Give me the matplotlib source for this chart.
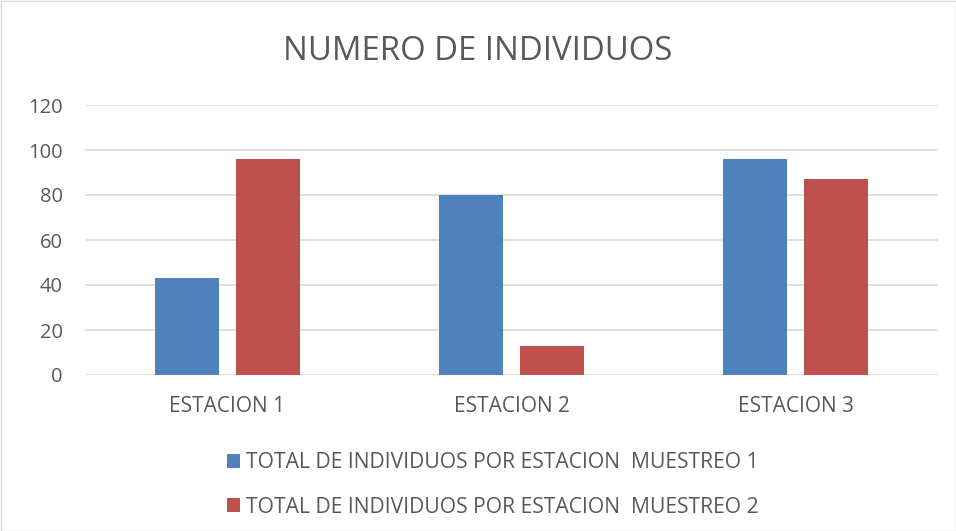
import matplotlib
matplotlib.use("Agg")
import matplotlib.pyplot as plt
import numpy as np
from matplotlib.patches import Rectangle

categories = ["ESTACION 1", "ESTACION 2", "ESTACION 3"]
series_names = ["TOTAL DE INDIVIDUOS POR ESTACION  MUESTREO 1",
                "TOTAL DE INDIVIDUOS POR ESTACION  MUESTREO 2"]
muestreo1 = [43, 80, 96]
muestreo2 = [96, 13, 87]
yticks = [0, 20, 40, 60, 80, 100, 120]

colors = ["#4F81BD", "#C0504D"]
text_color = "#595959"
plt.rcParams['font.family'] = ['Open Sans', 'DejaVu Sans']

W, H = 956, 531
fig = plt.figure(figsize=(W/100, H/100), dpi=100)
ax = fig.add_axes([85/W, (H-375)/H, (938-85)/W, (375-105)/H])

x = np.arange(len(categories))
bw = 0.225
off = 0.1425
ax.bar(x - off, muestreo1, bw, color=colors[0], label=series_names[0], zorder=3)
ax.bar(x + off, muestreo2, bw, color=colors[1], label=series_names[1], zorder=3)

ax.set_xlim(-0.5, len(categories) - 0.5)
ax.set_ylim(0, 120)
ax.set_yticks(yticks)
ax.set_xticks(x)
ax.set_xticklabels(categories)
ax.yaxis.grid(True, color="#d9d9d9", linewidth=1.2, zorder=0)
ax.tick_params(axis='both', length=0, labelsize=14.5, colors=text_color)
ax.tick_params(axis='x', pad=15, labelsize=15)
ax.tick_params(axis='y', pad=16)
for s in ax.spines.values():
    s.set_visible(False)

fig.text(0.5, 1 - 52/H, "NUMERO DE INDIVIDUOS", ha='center', va='center',
         fontsize=23.7, color=text_color)

handles, labels = ax.get_legend_handles_labels()
leg = fig.legend(handles, labels, loc='center', bbox_to_anchor=(493/W, 1 - 485/H),
                 ncol=1, frameon=False, fontsize=15.2, labelcolor=text_color,
                 handlelength=0.6, handleheight=0.6, handletextpad=0.3,
                 labelspacing=1.1, borderpad=0)

fig.patches.append(Rectangle((0.5/W, 0.5/H), 1 - 1/W, 1 - 1/H, transform=fig.transFigure,
                             fill=False, edgecolor="#d9d9d9", linewidth=1))

fig.savefig("out.png", dpi=100)
